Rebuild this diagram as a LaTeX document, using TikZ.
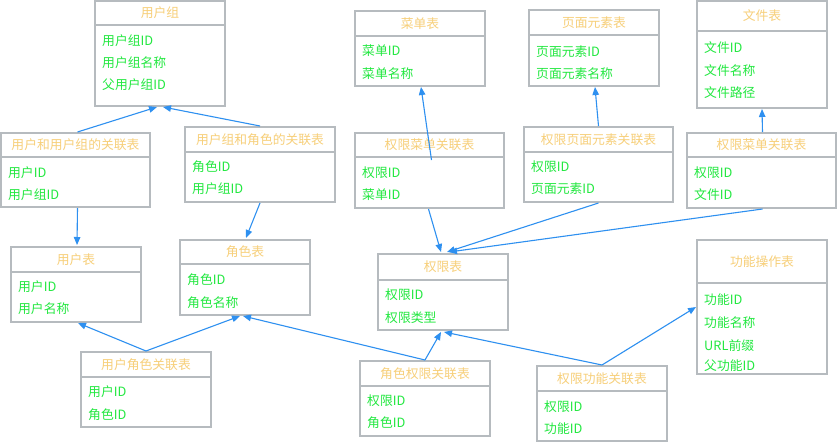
\documentclass[tikz,border=0pt]{standalone}
\usepackage{fontspec}
\setmainfont{Noto Sans CJK SC}
\usetikzlibrary{arrows.meta,calc}

\definecolor{tblgray}{HTML}{B6BBBF}
\definecolor{tbltitlec}{HTML}{F7CF79}
\definecolor{tblitemc}{HTML}{22E840}
\definecolor{linkblue}{HTML}{2E90F0}

\tikzset{
  tblbox/.style={draw=tblgray, line width=2pt, fill=white, inner sep=0pt, rectangle},
  tblrule/.style={draw=tblgray, line width=2pt},
  tbltitle/.style={text=tbltitlec, inner sep=0pt, font=\fontsize{12.8}{14}\selectfont},
  tblitem/.style={text=tblitemc, inner sep=0pt, anchor=west, font=\fontsize{12.8}{14}\selectfont},
  link/.style={draw=linkblue, line width=1.1pt, -{Triangle[length=8pt,width=6.5pt]}},
  plainlink/.style={draw=linkblue, line width=1.1pt}
}

% table frame: name, x1, y1, x2, y2, header rule y, title
\newcommand\dbtab[7]{%
  \pgfmathsetmacro\tabw{#4-#2}%
  \pgfmathsetmacro\tabh{#5-#3}%
  \node[tblbox, minimum width=\tabw pt, minimum height=\tabh pt] (#1) at ({(#2+#4)/2},{(#3+#5)/2}) {};
  \draw[tblrule] (#2,#6) -- (#4,#6);
  \node[tbltitle] (#1-t) at ({(#2+#4)/2},{(#3+#6)/2}) {#7};
}
% table field: name, x, y, text
\newcommand\dbfield[4]{\node[tblitem] (#1) at (#2,#3) {#4};}

\begin{document}
\begin{tikzpicture}[x=1pt, y=-1pt]
\useasboundingbox[fill=white] (0,0) rectangle (838,442);

% user side
\dbtab{ug}{95}{1}{225}{106}{25}{用户组}
\dbfield{ug-a}{102}{41}{用户组ID}
\dbfield{ug-b}{102}{63}{用户组名称}
\dbfield{ug-c}{102}{85}{父用户组ID}

\dbtab{uug}{1}{133}{150}{207}{157}{用户和用户组的关联表}
\dbfield{uug-a}{8}{173}{用户ID}
\dbfield{uug-b}{8}{195}{用户组ID}

\dbtab{ugr}{185}{127}{335}{202}{152}{用户组和角色的关联表}
\dbfield{ugr-a}{192}{167}{角色ID}
\dbfield{ugr-b}{192}{189}{用户组ID}

\dbtab{user}{11}{247}{141}{322}{272}{用户表}
\dbfield{user-a}{18}{287}{用户ID}
\dbfield{user-b}{18}{309}{用户名称}

\dbtab{role}{180}{240}{310}{315}{264}{角色表}
\dbfield{role-a}{187}{280}{角色ID}
\dbfield{role-b}{187}{303}{角色名称}

\dbtab{ur}{81}{352}{211}{427}{377}{用户角色关联表}
\dbfield{ur-a}{88}{392}{用户ID}
\dbfield{ur-b}{88}{415}{角色ID}

% permission side
\dbtab{menu}{355}{11}{485}{86}{36}{菜单表}
\dbfield{menu-a}{362}{51}{菜单ID}
\dbfield{menu-b}{362}{74}{菜单名称}

\dbtab{page}{529}{10}{659}{86}{35}{页面元素表}
\dbfield{page-a}{536}{52}{页面元素ID}
\dbfield{page-b}{536}{74}{页面元素名称}

\dbtab{file}{697}{1}{827}{108}{31}{文件表}
\dbfield{file-a}{704}{48}{文件ID}
\dbfield{file-b}{704}{71}{文件名称}
\dbfield{file-c}{704}{93}{文件路径}

\dbtab{pm}{355}{133}{504}{208}{157}{权限菜单关联表}
\dbfield{pm-a}{362}{173}{权限ID}
\dbfield{pm-b}{362}{195}{菜单ID}

\dbtab{pp}{524}{127}{673}{202}{152}{权限页面元素关联表}
\dbfield{pp-a}{531}{167}{权限ID}
\dbfield{pp-b}{531}{189}{页面元素ID}

\dbtab{pf}{687}{133}{836}{208}{157}{权限菜单关联表}
\dbfield{pf-a}{694}{173}{权限ID}
\dbfield{pf-b}{694}{195}{文件ID}

\dbtab{perm}{378}{254}{508}{330}{280}{权限表}
\dbfield{perm-a}{385}{295}{权限ID}
\dbfield{perm-b}{385}{318}{权限类型}

\dbtab{func}{697}{240}{827}{374}{283}{功能操作表}
\dbfield{func-a}{704}{300}{功能ID}
\dbfield{func-b}{704}{323}{功能名称}
\dbfield{func-c}{704}{346}{URL前缀}
\dbfield{func-d}{704}{366}{父功能ID}

\dbtab{rp}{360}{361}{490}{436}{386}{角色权限关联表}
\dbfield{rp-a}{367}{401}{权限ID}
\dbfield{rp-b}{367}{423}{角色ID}

\dbtab{pfn}{537}{366}{667}{441}{391}{权限功能关联表}
\dbfield{pfn-a}{544}{407}{权限ID}
\dbfield{pfn-b}{544}{429}{功能ID}

% connectors
\coordinate (pm-in) at ($(pm.north)+(2,28)$);

\draw[link] ($(uug.north)+(2,0)$) -- ($(ug.south)+(-3,0)$);
\draw[link] (ugr.north) -- ($(ug.south)+(3,0)$);
\draw[link] ($(uug.south)+(2,0)$) -- ($(user.north)+(1,-1)$);
\draw[link] (ugr.south) -- ($(role.north)+(1,-1)$);
\draw[link] (ur.north) -- ($(user.south)+(2,0)$);
\draw[link] (ur.north) -- ($(role.south)+(-5,0)$);
\draw[link] (rp.north) -- ($(role.south)+(-2,0)$);
\draw[link] (rp.north) -- ($(perm.south)+(-2,1)$);
\draw[link] (pfn.north) -- ($(perm.south)+(1,1)$);
\draw[link] (pfn.north) -- (func.west);
\draw[link] (pm-in) -- ($(menu.south)+(1,0)$);
\draw[link] ($(pm.south)+(-1,0)$) -- ($(perm.north)+(-2,-1)$);
\draw[link] (pp.north) -- ($(page.south)+(1,0)$);
\draw[link] (pp.south) -- ($(perm.north)+(4,-1)$);
\draw[link] ($(pf.north)+(1,0)$) -- (file.south);
\draw[link] ($(pf.south)+(1,0)$) -- ($(perm.north)+(6,-1)$);
\end{tikzpicture}
\end{document}
